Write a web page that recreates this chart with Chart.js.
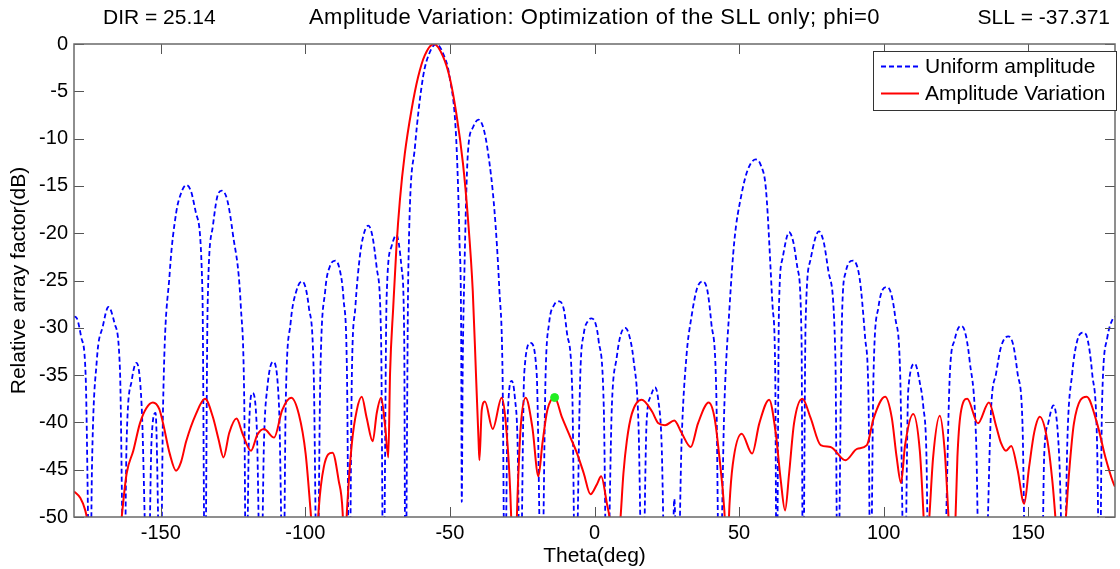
<!DOCTYPE html>
<html>
<head>
<meta charset="utf-8">
<title>Amplitude Variation</title>
<script src="https://cdn.jsdelivr.net/npm/chart.js@4.4.1/dist/chart.umd.min.js"></script>
<style>
  body { margin: 0; background: #fff; }
  canvas { display: block; }
</style>
</head>
<body>
<canvas id="afChart" width="1120" height="569"></canvas>
<script>
// header texts
const chartTitle = 'Amplitude Variation: Optimization of the SLL only; phi=0';
const dirText = 'DIR = 25.14';
const sllText = 'SLL = -37.371';

// axis ticks
const xTicks = [-150, -100, -50, 0, 50, 100, 150];
const yTicks = [0, -5, -10, -15, -20, -25, -30, -35, -40, -45, -50];

// [theta(deg), dB], nulls below -50 get clipped
const uniformPts = [
  [-180, -28.8], [-179, -29.0], [-177.5, -31.0], [-176, -34.8], [-174.4, -60],
  [-173.8, -45], [-172.1, -33.4], [-170, -29.8], [-168.1, -27.8], [-166, -29.5], [-164.1, -34.5], [-162.7, -60],
  [-161.8, -41.9], [-160, -35.5], [-158.4, -33.7], [-156.6, -38.3], [-154.4, -60],
  [-153.2, -42], [-151.8, -39.0], [-150.1, -60],
  [-149.2, -38.3], [-146.9, -24.2], [-144.7, -17.9], [-143, -15.8], [-141.2, -14.9], [-139.5, -15.6], [-137.8, -17.9], [-135.6, -26], [-134.7, -60],
  [-133.8, -27.8], [-132, -19.3], [-130.5, -16.2], [-128.9, -15.5], [-127, -16.5], [-125.1, -20], [-122.3, -27.8], [-121.1, -38.3], [-120.5, -60],
  [-119.4, -40], [-118.3, -36.9], [-116.8, -40.5], [-115.4, -60],
  [-114.3, -42], [-113.1, -36.2], [-111.2, -33.6], [-109.1, -38.3], [-107.6, -60],
  [-106.8, -38.3], [-105.1, -29.5], [-103, -26], [-101.1, -25.1], [-98.8, -27.8], [-97.1, -34.8], [-95.9, -60],
  [-94.8, -34.8], [-93.1, -26], [-91.5, -23.5], [-89.6, -22.9], [-88, -24], [-86.8, -26.9], [-85.6, -34.8], [-84.8, -60],
  [-83.9, -34.8], [-82.7, -27.8], [-81, -22.1], [-79.5, -19.8], [-78.2, -19.2], [-76.8, -20.3], [-75.3, -23.7], [-73.8, -31.2], [-73, -60],
  [-71.9, -26.9], [-70.2, -21.4], [-68.5, -20.2], [-66.7, -23.7], [-65.8, -31.2], [-65.4, -60],
  [-64.4, -24.2], [-62.1, -10.9], [-59.3, -3.5], [-57, -0.9], [-54.7, 0], [-52.5, -0.9], [-50.1, -3.5], [-47.8, -10.2], [-46.7, -20.7], [-46.1, -31.2], [-45.9, -48.4],
  [-45.6, -35], [-45, -24.2], [-43.8, -11.6], [-42, -8.8], [-40.1, -8], [-38.5, -8.8], [-36.9, -11.3], [-34.6, -17.6], [-32.9, -26], [-31.8, -34.8], [-31, -60],
  [-30.1, -40.1], [-28.6, -35.6], [-27.5, -37.5], [-26.6, -42.2], [-25.7, -60],
  [-24.3, -34.8], [-22.1, -31.6], [-20, -34.8], [-18.3, -60],
  [-16.9, -34.8], [-15.7, -29.5], [-14, -27.6], [-12.1, -27.2], [-10.5, -28.2], [-9.5, -30.6], [-7.7, -36.6], [-6.6, -60],
  [-4.9, -34.8], [-3.7, -30.6], [-2.3, -29.3], [-1.1, -29], [0.3, -29.5], [1.4, -31.3], [3.2, -38.3], [4.3, -60],
  [6, -38.3], [7.7, -33.1], [9, -30.8], [10.6, -30], [12, -30.8], [13.5, -33.4], [15.2, -40.1], [16.6, -60],
  [18, -40.1], [19.5, -37.2], [20.9, -36.3], [22, -37.5], [23.2, -42.2], [24.6, -60],
  [26.6, -60], [27.6, -48.1], [28.7, -60],
  [30.1, -42.2], [31.8, -33], [33.5, -28.9], [35.5, -25.8], [37.3, -25.1], [39, -26], [40.4, -29.5], [42.1, -36.6], [43.2, -60],
  [44.9, -38.3], [46.7, -27.8], [48.4, -20.7], [50.7, -16.1], [53, -13.3], [55.8, -12.2], [57.5, -12.8], [59.3, -15.4], [61.6, -27.8], [62.5, -34.8], [63, -60],
  [63.8, -27.8], [65, -22.7], [67.3, -19.9], [68.8, -21], [70.2, -23.7], [71.6, -31.2], [72.1, -60],
  [73, -29.5], [74.7, -22.8], [77.6, -19.8], [79.3, -21], [81, -24.2], [83.3, -33], [84.1, -60],
  [85.6, -28.8], [86.8, -24.2], [89.4, -22.9], [91.7, -24.8], [93.6, -31.1], [94.8, -38.3], [95.4, -60],
  [96.5, -34.8], [98.2, -27.8], [101.1, -25.7], [102.5, -26.3], [104, -28.9], [105.7, -34.8], [107.2, -60],
  [108.5, -36.6], [110.8, -33.8], [112.5, -35.8], [113.7, -38.3], [114.8, -43.6], [115.6, -60],
  [118, -60], [120.5, -60],
  [122.9, -34.8], [124.6, -31.2], [126.6, -29.8], [128, -30.3], [129.7, -33.4], [132, -42.2], [133.2, -60],
  [134.8, -60], [137.2, -38.3], [138.9, -34.8], [140.6, -32], [143.1, -30.9], [144.8, -31.8], [146.3, -34.8], [148, -40.1], [149.2, -60],
  [152, -62], [154.6, -60],
  [155.5, -43.6], [156.9, -40.1], [158.7, -38.2], [160.7, -43.6], [162.4, -60],
  [163.5, -42.2], [165.2, -34.8], [167, -31.3], [169, -30.5], [170.5, -31.2], [172.1, -34.8], [173.8, -42.2], [174.7, -60],
  [175.5, -38.3], [177.3, -31.1], [179.3, -29], [180, -28.8]
];

const optimizedPts = [
  [-180, -47.3], [-177.8, -48], [-176.1, -49.3], [-175, -51], [-170, -62], [-166, -58], [-163.5, -50],
  [-161.8, -45.4], [-159.5, -43], [-157.2, -40.1], [-155, -38.5], [-152.7, -37.9], [-150.5, -38.6], [-149.2, -40.1],
  [-146.9, -43.3], [-144.7, -45.1], [-143, -44.2], [-141.2, -42], [-137.8, -39.1], [-134.7, -37.5], [-132, -39.4],
  [-130, -41.8], [-128.3, -43.7], [-126.3, -41.1], [-123.8, -39.6], [-121.7, -41.2], [-118.8, -43], [-116.6, -41.3],
  [-114.3, -40.7], [-110.8, -41.6], [-108, -38.7], [-104.9, -37.4], [-102.2, -39.2], [-99.9, -43.3], [-98.2, -49.3],
  [-96.5, -56], [-95.4, -49.3], [-93.6, -44.7], [-90.6, -43.2], [-88.5, -46.1], [-87.1, -49.5], [-86.5, -55],
  [-85.6, -49.3], [-83.9, -42.2], [-82.2, -38.7], [-80.5, -37.3], [-78.8, -39.5], [-76.7, -42], [-75.3, -39],
  [-73.8, -37.4], [-72.4, -40.4], [-71.3, -43.7], [-70.7, -34.8], [-69.6, -27.8], [-68.5, -21.5], [-67.3, -16.5],
  [-65.6, -11.6], [-63.3, -7], [-61, -3.5], [-58.7, -1.2], [-55.5, 0], [-52.4, -1.3], [-50.1, -3.5], [-47.8, -7.3],
  [-45.5, -12.6], [-43.8, -18.3], [-42.1, -26.1], [-41, -34.8], [-40.1, -41.9], [-39.8, -44], [-39, -38.7],
  [-37.9, -37.8], [-35.2, -40.7], [-32.1, -37.4], [-30.1, -42.2], [-29.1, -47.6], [-28.7, -51], [-27.7, -58],
  [-26.6, -47.6], [-25.5, -40.4], [-23.8, -37.4], [-21.5, -40.5], [-19.4, -45.7], [-18, -42.2], [-16.3, -38.7],
  [-13.8, -37.371], [-11.2, -39.5], [-8.3, -41.6], [-6, -43.3], [-3.7, -45.4], [-1.4, -47.6], [0.9, -46.5],
  [2.3, -45.7], [4.3, -48.6], [5.4, -50.5], [7, -56], [8.9, -50.5], [10, -45.4], [11.2, -41.9], [12.9, -39.1],
  [16.3, -37.6], [19.8, -38.8], [22.1, -40.1], [24.4, -40.3], [27.6, -39.8], [30.1, -41.1], [33.3, -42.6],
  [35.8, -40.1], [39.5, -37.9], [41.5, -39.5], [43.2, -43.7], [44.9, -49.3], [45.8, -55], [46.7, -48.6],
  [47.8, -44.5], [50.9, -41.2], [54.5, -43.3], [57, -40.1], [60.4, -37.6], [62.7, -41.2], [64.4, -46.1],
  [65.9, -49.3], [67.3, -45.4], [69, -40.1], [71.9, -37.5], [74.7, -39.5], [78.2, -42.4], [81.6, -42.6],
  [86.8, -44], [90.8, -42.8], [94.2, -42.4], [96.5, -39.6], [100.5, -37.3], [102.8, -39.5], [104.5, -43.7],
  [106, -46.4], [107.4, -42.4], [110.2, -39.1], [112.5, -43], [113.7, -49.3], [114.6, -55], [115.8, -50],
  [117.1, -43.7], [119.4, -39.3], [121.1, -43], [122.3, -49.3], [123.5, -56], [124.8, -50.5], [125.5, -43.7],
  [126.6, -39.1], [128.9, -37.5], [132.6, -40.1], [136.4, -37.9], [138.9, -40.4], [140.6, -42.2], [142.3, -43],
  [144.1, -42.5], [146.3, -45], [148.6, -48.6], [150.3, -44.7], [152.1, -41], [154, -39.4], [156.6, -41.9],
  [158.4, -46.4], [159.5, -50.5], [161, -57], [162.9, -50.5], [164.1, -45.4], [165.8, -40.1], [170.2, -37.3],
  [173.8, -40.1], [176.7, -43.7], [179.3, -46.3], [180, -46.8]
];

// the highest side lobe marker
const sllPeak = [[-13.8, -37.371]];

const toXY = pts => pts.map(p => ({ x: p[0], y: p[1] }));

const FONT = '"Liberation Sans", Arial, sans-serif';

// box, inward ticks, header texts and legend (matlab look)
const matlabDecor = {
  id: 'matlabDecor',
  afterDatasetsDraw(chart) {
    const { ctx, chartArea: a, scales: { x, y } } = chart;
    const tl = 10;
    ctx.save();
    ctx.strokeStyle = '#555';
    ctx.lineWidth = 1;
    ctx.beginPath();
    xTicks.forEach(v => {
      const px = Math.round(x.getPixelForValue(v)) + 0.5;
      ctx.moveTo(px, a.bottom); ctx.lineTo(px, a.bottom - tl);
      ctx.moveTo(px, a.top); ctx.lineTo(px, a.top + tl);
    });
    yTicks.forEach(v => {
      const py = Math.round(y.getPixelForValue(v)) + 0.5;
      ctx.moveTo(a.left, py); ctx.lineTo(a.left + tl, py);
      ctx.moveTo(a.right, py); ctx.lineTo(a.right - tl, py);
    });
    ctx.stroke();
    ctx.strokeStyle = '#6a6a6a';
    ctx.lineWidth = 1.5;
    ctx.strokeRect(a.left, a.top, a.right - a.left, a.bottom - a.top);
    ctx.restore();
  },
  afterDraw(chart) {
    const { ctx, chartArea: a } = chart;
    ctx.save();
    ctx.fillStyle = '#000';
    ctx.textBaseline = 'middle';
    ctx.font = '22px ' + FONT;
    ctx.textAlign = 'center';
    ctx.letterSpacing = '0.5px';
    ctx.fillText(chartTitle, (a.left + a.right) / 2, 18);
    ctx.letterSpacing = '0px';
    ctx.font = '21px ' + FONT;
    ctx.textAlign = 'left';
    ctx.fillText(dirText, 103, 18);
    ctx.textAlign = 'right';
    ctx.fillText(sllText, 1110, 18);

    // legend box
    const bx = 873, by = 51, bw = 243, bh = 59;
    ctx.fillStyle = '#fff';
    ctx.fillRect(bx, by, bw, bh);
    ctx.strokeStyle = '#333';
    ctx.lineWidth = 1;
    ctx.strokeRect(bx + 0.5, by + 0.5, bw, bh);
    const items = chart.data.datasets.slice(0, 2);
    const rows = [66.5, 93.5];
    items.forEach((ds, i) => {
      ctx.strokeStyle = ds.borderColor;
      ctx.lineWidth = ds.borderWidth;
      ctx.setLineDash(ds.borderDash || []);
      ctx.beginPath();
      ctx.moveTo(881, rows[i]);
      ctx.lineTo(919, rows[i]);
      ctx.stroke();
      ctx.setLineDash([]);
      ctx.fillStyle = '#000';
      ctx.textAlign = 'left';
      ctx.fillText(ds.label, 925, rows[i] + 1);
    });
    ctx.restore();
  }
};

new Chart(document.getElementById('afChart'), {
  type: 'scatter',
  data: {
    datasets: [
      {
        label: 'Uniform amplitude',
        data: toXY(uniformPts),
        showLine: true,
        borderColor: '#0000ff',
        borderWidth: 1.8,
        borderDash: [5, 3],
        pointRadius: 0,
        cubicInterpolationMode: 'monotone',
        order: 2
      },
      {
        label: 'Amplitude Variation',
        data: toXY(optimizedPts),
        showLine: true,
        borderColor: '#ff0000',
        borderWidth: 2,
        pointRadius: 0,
        cubicInterpolationMode: 'monotone',
        order: 1
      },
      {
        label: 'SLL',
        data: toXY(sllPeak),
        pointRadius: 4,
        backgroundColor: '#22ee22',
        borderColor: '#22ee22',
        order: 0
      }
    ]
  },
  options: {
    responsive: false,
    animation: false,
    devicePixelRatio: 1,
    layout: { padding: { top: 44, right: 1, left: 0, bottom: 0 } },
    plugins: {
      legend: { display: false },
      title: { display: false },
      tooltip: { enabled: false }
    },
    scales: {
      x: {
        type: 'linear',
        min: -180,
        max: 180,
        afterBuildTicks: s => { s.ticks = xTicks.map(v => ({ value: v })); },
        afterFit: s => { s.height = 52; },
        grid: { display: false, drawTicks: false },
        border: { display: false },
        ticks: { color: '#000', font: { family: FONT, size: 20 }, padding: 4, maxRotation: 0 },
        title: {
          display: true,
          text: 'Theta(deg)',
          color: '#000',
          font: { family: FONT, size: 21 },
          padding: { top: 1, bottom: 0 }
        }
      },
      y: {
        type: 'linear',
        min: -50,
        max: 0,
        afterBuildTicks: s => { s.ticks = yTicks.map(v => ({ value: v })); },
        afterFit: s => { s.width = 74; },
        grid: { display: false, drawTicks: false },
        border: { display: false },
        ticks: { color: '#000', font: { family: FONT, size: 20 }, padding: 6 },
        title: {
          display: true,
          text: 'Relative array factor(dB)',
          color: '#000',
          font: { family: FONT, size: 21 },
          padding: { top: 7, bottom: 0 }
        }
      }
    }
  },
  plugins: [matlabDecor]
});
</script>
</body>
</html>
